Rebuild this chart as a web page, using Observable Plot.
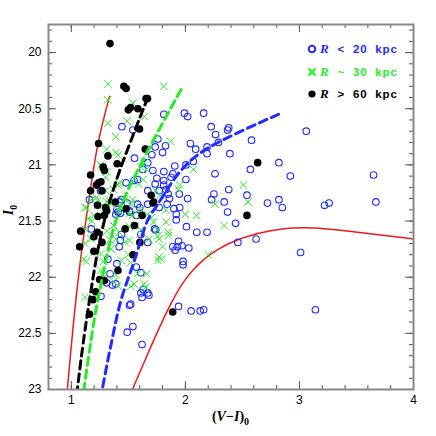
<!DOCTYPE html>
<html><head><meta charset="utf-8">
<script src="https://cdn.jsdelivr.net/npm/d3@7"></script>
<script src="https://cdn.jsdelivr.net/npm/@observablehq/plot@0.6"></script>
<style>body{margin:0;background:#fff}#chart{position:relative;width:436px;height:436px}</style>
</head><body><div id="chart"></div>
<script>
// R < 20 kpc (open blue circles): [(V-I)0, I0]
const nearPts = [[1.444,20.66],[1.54,20.69],[1.811,20.55],[1.991,20.54],[2.02,20.57],[2.16,20.54],[2.226,20.66],[2.265,20.73],[1.758,20.77],[1.735,20.84],[1.826,20.83],[1.80,20.89],[1.706,20.91],[2.044,20.81],[2.19,20.90],[2.19,20.84],[1.554,20.94],[1.907,21.01],[2.005,21.00],[1.627,21.04],[1.715,21.05],[1.811,21.06],[1.89,21.08],[1.75,21.12],[1.81,21.14],[1.875,21.11],[1.55,21.14],[1.58,21.13],[1.48,21.16],[1.735,21.17],[1.81,21.18],[2.005,21.13],[2.26,21.08],[1.67,21.23],[1.77,21.23],[1.83,21.22],[1.85,21.26],[1.86,21.30],[1.947,21.26],[2.02,21.30],[2.25,21.26],[2.23,21.31],[1.16,21.31],[1.256,21.23],[1.42,21.33],[1.44,21.31],[1.49,21.34],[1.58,21.35],[1.67,21.35],[1.77,21.38],[1.84,21.35],[1.90,21.39],[1.41,21.42],[1.51,21.42],
[2.37,20.69],[2.38,20.67],[2.58,20.78],[3.06,20.70],[2.29,20.80],[2.39,20.90],[2.57,21.04],[2.82,20.98],[2.92,21.10],[3.65,21.09],[2.38,21.22],[2.34,21.33],[2.54,21.27],[2.37,21.42],[2.72,21.34],[2.82,21.31],[2.85,21.38],[3.22,21.36],[3.26,21.34],[3.67,21.33],
[2.44,21.52],[2.19,21.60],[2.46,21.69],[2.62,21.66],[3.01,21.78],[2.16,22.29],[3.14,22.29],[2.09,20.86],[2.07,20.97],[1.95,21.38],
[1.92,21.49],[2.01,21.55],[2.10,21.60],[1.74,21.58],[1.94,21.68],[1.93,21.73],[1.89,21.73],[1.97,21.72],[2.03,21.74],[1.91,21.76],[1.98,21.86],[1.98,21.89],[1.68,22.16],[1.94,22.26],[2.05,22.30],[2.13,22.30],
[1.175,21.57],[1.39,21.44],[1.43,21.43],[1.40,21.40],[1.51,21.41],[1.57,21.45],[1.60,21.38],[1.44,21.62],[1.43,21.67],[1.42,21.73],[1.32,21.84],[1.34,21.97],[1.31,22.05],[1.40,21.88],[1.36,22.07],[1.39,22.06],[1.26,22.17],[1.57,21.91],[1.61,21.96],[1.67,21.69],[1.61,21.62],[1.73,21.57],[1.61,22.14],[1.63,22.11],[1.67,22.14],[1.62,22.18],[1.52,22.24],[1.51,22.25],[1.49,22.49],[1.54,22.44],[1.62,22.60],[1.67,20.98],[1.92,21.44]];

// R ~ 30 kpc (green crosses)
const midPts = [[1.32,20.28],[1.32,20.42],[1.81,20.30],[1.54,20.45],[1.64,20.57],[1.32,20.63],[1.49,20.61],[1.39,20.75],[1.87,20.79],[1.41,20.91],[1.26,21.00],[1.64,20.98],[1.61,21.02],[1.42,21.16],[2.07,21.04],[1.37,21.22],[1.30,21.23],[1.95,21.18],[1.94,21.22],[1.175,21.31],[1.23,21.32],[1.31,21.33],[1.33,21.31],[1.12,21.38],[1.30,21.38],[1.35,21.35],[1.47,21.31],[1.52,21.35],[1.60,21.39],[1.83,21.40],[2.00,21.44],[2.10,21.45],[2.26,21.35],
[2.51,21.18],[2.55,21.33],[2.34,21.54],[2.20,21.80],
[1.15,21.48],[1.18,21.50],[1.20,21.45],[1.12,21.57],[1.17,21.66],[1.19,21.63],[1.12,21.70],[1.13,21.86],[1.20,21.78],[1.26,21.79],[1.28,21.86],[1.26,21.94],[1.28,21.98],[1.12,22.18],
[1.31,21.59],[1.37,21.54],[1.34,21.67],[1.39,21.66],[1.42,21.60],[1.35,21.75],
[1.48,21.41],[1.54,21.45],[1.51,21.55],[1.56,21.54],[1.47,21.69],[1.51,21.67],[1.50,21.80],[1.44,21.85],[1.52,21.87],[1.39,21.98],[1.41,22.08],[1.37,22.04],[1.52,22.08],[1.55,22.06],[1.64,22.06],[1.65,22.09],[1.67,21.44],[1.70,21.47],[1.72,21.51],[1.75,21.58],[1.76,21.63],[1.77,21.82],[1.76,21.85],[1.85,21.63],[1.83,21.51],[1.58,21.97],
[1.68,21.66],[1.77,21.66],[1.85,21.60],[1.80,21.73],[1.79,21.84],[1.74,21.23],[1.78,21.27],
[1.31,20.86],[1.39,20.89],[1.27,21.02],[1.30,21.11],[1.31,21.06],[1.41,21.18],[1.22,21.29],[1.13,21.38],[1.23,21.36],[1.54,21.31],[1.51,21.43],[1.66,21.04],[1.63,21.13],[1.59,21.17],[1.61,21.58],[1.66,21.97],[1.11,21.84]];

// R > 60 kpc (black filled)
const farPts = [[1.339,19.92],[1.461,20.30],[1.481,20.32],[1.655,20.41],[1.668,20.41],[1.50,20.51],[1.52,20.49],[1.584,20.50],[1.598,20.68],[1.239,20.81],[1.649,20.86],[1.321,20.92],[1.402,20.99],[1.28,21.02],[1.29,21.05],[1.169,21.09],[1.24,21.16],[1.22,21.18],[1.26,21.15],[1.169,21.23],[1.269,21.23],[1.385,21.33],[1.481,21.39],[1.31,21.41],[1.30,21.38],[1.70,21.27],[1.722,21.33],[1.62,21.45],[1.234,21.46],[1.29,21.45],[1.082,21.59],[1.073,21.73],[1.228,21.60],[1.198,21.64],[1.269,21.69],[1.198,21.77],[1.23,21.36],[1.472,21.57],[1.554,21.54],[1.601,21.69],[1.54,21.80],[1.409,21.94],[1.248,22.02],[1.29,22.03],[1.214,22.13],[1.19,22.20],[1.16,22.33],[1.715,21.34],[1.889,22.31],[2.634,20.98],[2.54,21.45]];

// Model curves
const redLeft = [[1.335,20.39],[1.234,20.81],[1.14,21.41],[1.073,21.91],[1.02,22.4],[0.965,23.0]];
const redRight = [[1.536,23.0],[1.658,22.71],[1.775,22.44],[1.87,22.24],[1.96,22.07],[2.06,21.94],[2.16,21.84],[2.28,21.75],[2.44,21.67],[2.62,21.61],[2.84,21.565],[3.10,21.55],[3.6,21.61],[4.0,21.66]];
const blackDash = [[1.671,20.40],[1.394,21.14],[1.263,21.61],[1.16,22.2],[1.088,22.71],[1.053,23.0]];
const greenDash = [[1.962,20.33],[1.612,20.99],[1.409,21.44],[1.233,22.2],[1.16,22.65],[1.111,23.0]];
const blueDash = [[2.817,20.55],[2.166,20.87],[1.962,21.05],[1.758,21.35],[1.671,21.49],[1.554,21.85],[1.437,22.2],[1.35,22.59],[1.271,23.0]];

const xTickLabels = [1,2,3,4];
const yTickLabels = [20,20.5,21,21.5,22,22.5,23];

const W=436,H=436,mL=48,mT=24,mR=23,mB=47;
const ph = H-mT-mB, pw = W-mL-mR;
const xMinor = d3.range(0.8,4.001,0.2).map(v=>+v.toFixed(1));
const yMinor = d3.range(19.8,23.001,0.1).map(v=>+v.toFixed(1));
const tc = "#555";
const px = d=>d[0], py = d=>d[1];

const plot = Plot.plot({
  width:W,height:H,marginLeft:mL,marginTop:mT,marginRight:mR,marginBottom:mB,
  style:{fontFamily:"'Liberation Sans', Arial, sans-serif",fontSize:"12px",color:"#000",background:"#fff"},
  x:{domain:[0.8,4]},
  y:{domain:[19.75,23],reverse:true},
  marks:[
    Plot.tickX(xMinor,{x:d=>d,insetTop:ph-4,stroke:tc}),
    Plot.tickX(xMinor,{x:d=>d,insetBottom:ph-4,stroke:tc}),
    Plot.tickX(xTickLabels,{x:d=>d,insetTop:ph-8,stroke:tc}),
    Plot.tickX(xTickLabels,{x:d=>d,insetBottom:ph-8,stroke:tc}),
    Plot.tickY(yMinor,{y:d=>d,insetRight:pw-4,stroke:tc}),
    Plot.tickY(yMinor,{y:d=>d,insetLeft:pw-4,stroke:tc}),
    Plot.tickY(yTickLabels,{y:d=>d,insetRight:pw-8,stroke:tc}),
    Plot.tickY(yTickLabels,{y:d=>d,insetLeft:pw-8,stroke:tc}),
    Plot.axisX({ticks:xTickLabels,tickSize:0,tickPadding:6,label:null,fontSize:12,tickFormat:d=>String(d)}),
    Plot.axisY({ticks:yTickLabels,tickSize:0,tickPadding:7,label:null,fontSize:12,tickFormat:d=>String(d)}),
    Plot.line(redLeft,{x:px,y:py,stroke:"#f01818",strokeWidth:1.5,curve:"catmull-rom",clip:true}),
    Plot.line(redRight,{x:px,y:py,stroke:"#f01818",strokeWidth:1.5,curve:"basis",clip:true}),
    Plot.dot(nearPts,{x:px,y:py,r:3.3,stroke:"#1f2bff",strokeWidth:1.1,fill:"none",clip:true}),
    Plot.dot(midPts,{x:px,y:py,r:3.5,symbol:"times",stroke:"#22ee22",strokeWidth:1,clip:true}),
    Plot.dot(farPts,{x:px,y:py,r:3.8,fill:"#000",stroke:"none",clip:true}),
    Plot.line(blackDash,{x:px,y:py,stroke:"#000",strokeWidth:3,strokeDasharray:"8,5",curve:"catmull-rom",clip:true}),
    Plot.line(greenDash,{x:px,y:py,stroke:"#22ee22",strokeWidth:3,strokeDasharray:"8,5",curve:"catmull-rom",clip:true}),
    Plot.line(blueDash,{x:px,y:py,stroke:"#1f2bff",strokeWidth:3,strokeDasharray:"8,5",curve:"catmull-rom",clip:true}),
    Plot.frame({stroke:"#888",strokeWidth:2})
  ]
});
document.getElementById("chart").appendChild(plot);

// axis labels and legend
const svg = d3.select(plot);
const serif = "'Liberation Serif','Times New Roman',serif";
const xl = svg.append("text").attr("x",mL+pw/2).attr("y",421).attr("text-anchor","middle")
  .attr("font-family",serif).attr("font-weight","bold").attr("font-size",14);
xl.append("tspan").text("(");
xl.append("tspan").attr("font-style","italic").text("V");
xl.append("tspan").text("\u2212");
xl.append("tspan").attr("font-style","italic").text("I");
xl.append("tspan").text(")");
xl.append("tspan").attr("font-size",10).attr("dy",4).text("0");

const yl = svg.append("text").attr("transform","translate(13,210) rotate(-90)").attr("text-anchor","middle")
  .attr("font-family",serif).attr("font-weight","bold").attr("font-size",14);
yl.append("tspan").attr("font-style","italic").text("I");
yl.append("tspan").attr("font-size",10).attr("dy",4).text("0");

const legend = [
  {sym:"circle",color:"#1f2bff",rel:"<",val:"20",y:49},
  {sym:"times",color:"#1ef01e",rel:"~",val:"30",y:72},
  {sym:"dot",color:"#000",rel:">",val:"60",y:94}
];
for (const L of legend) {
  const g = svg.append("g");
  if (L.sym==="circle") g.append("circle").attr("cx",312).attr("cy",L.y).attr("r",3.3).attr("fill","none").attr("stroke",L.color).attr("stroke-width",2);
  else if (L.sym==="times") g.append("path").attr("d",`M${308.5},${L.y-3.5}L${315.5},${L.y+3.5}M${308.5},${L.y+3.5}L${315.5},${L.y-3.5}`).attr("stroke",L.color).attr("stroke-width",2);
  else g.append("circle").attr("cx",312).attr("cy",L.y).attr("r",3.6).attr("fill",L.color);
  const t = g.append("text").attr("x",320).attr("y",L.y+4).attr("fill",L.color).attr("text-anchor","start")
    .attr("font-family","'Liberation Sans',Arial,sans-serif").attr("font-weight","bold").attr("font-size",11.5)
    .attr("letter-spacing","0.8px").style("white-space","pre");
  t.append("tspan").attr("font-family",serif).attr("font-style","italic").attr("font-size",13).text("R");
  t.append("tspan").text("  "+L.rel+"  "+L.val+"  kpc");
}
</script></body></html>
